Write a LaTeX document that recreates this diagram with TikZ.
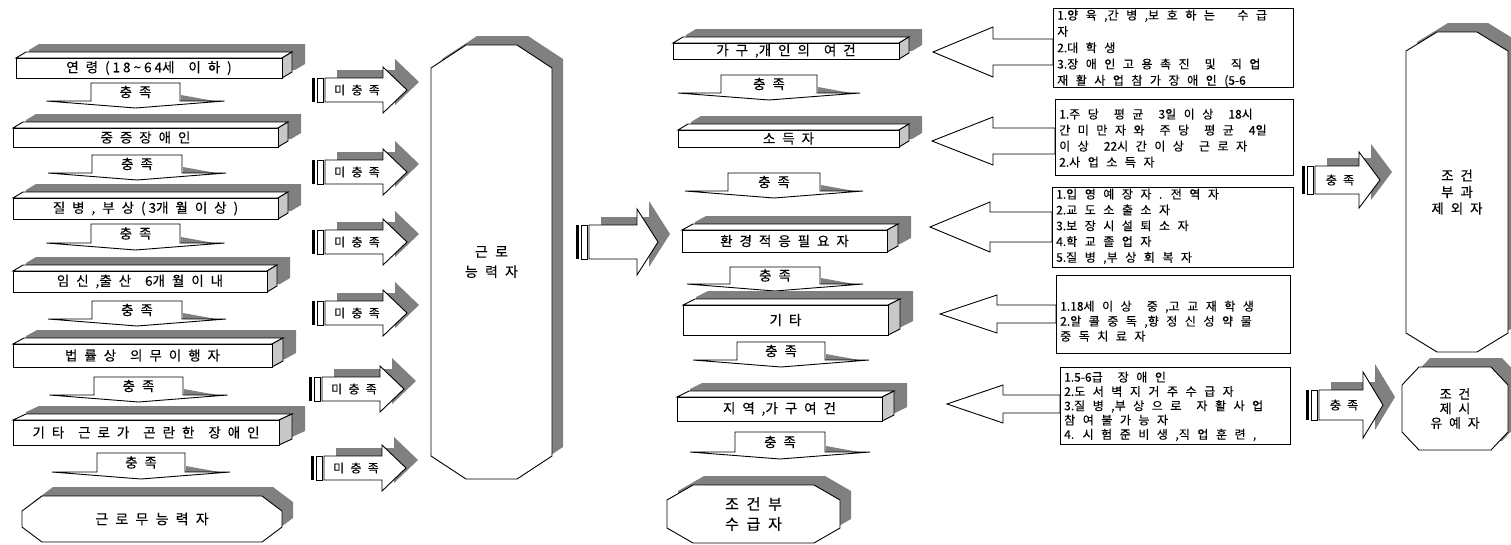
\documentclass[tikz,border=0pt]{standalone}
\usepackage{fontspec}
\setmainfont{Noto Sans CJK KR}[WordSpace=2.3,FakeBold=0.2]
\newfontfamily\bxf{Noto Sans CJK KR}[WordSpace=2.8,FakeBold=0.2]
\usetikzlibrary{calc}
\definecolor{shd}{gray}{0.5}
\definecolor{sidec}{gray}{0.78}
\newcommand{\gp}{\kern3pt}

% 3D bar: name x1 y1 x2 y2 depth text
\newcommand{\tdbar}[7]{%
  \begin{scope}[shift={(13,-8)}]
    \fill[shd] (#2,#5) -- (#2,#3) -- (#2+#6,#3-6) -- (#4+#6,#3-6) -- (#4+#6,#5-6) -- (#4,#5) -- cycle;
  \end{scope}
  \filldraw[fill=white,ol] (#2,#3) -- (#2+#6,#3-6) -- (#4+#6,#3-6) -- (#4,#3) -- cycle;
  \filldraw[fill=sidec,ol] (#4,#3) -- (#4+#6,#3-6) -- (#4+#6,#5-6) -- (#4,#5) -- cycle;
  \filldraw[fill=white,ol] (#2,#3) rectangle (#4,#5);
  \node[lbl] (#1) at ({(#2+#4)/2},{(#3+#5)/2}) {#7};
}
% down arrow: name cx ytop yshoulder halfshaft halfwing
\newcommand{\dnarr}[6]{%
  \fill[shd] (#2+#5+1,#4-6) -- (#2+#5+34,#4) -- (#2+#5+1,#4) -- cycle;
  \filldraw[fill=white,ol] (#2-#5,#3) -- (#2+#5,#3) -- (#2+#5,#4) -- (#2+#6,#4) -- (#2,#4+7) -- (#2-#6,#4) -- (#2-#5,#4) -- cycle;
  \node[lbl] (#1) at (#2,{(#3+#4)/2}) {충 족};
}
% right arrow with stripes: name xs cy xh xt hs hh text
\newcommand{\rtarr}[8]{%
  \begin{scope}[shift={(12,-8)}]
    \fill[shd] (#2+13,#3-#6) -- (#4,#3-#6) -- (#4,#3-#7) -- (#5,#3) -- (#4,#3+#7) -- (#4,#3+#6) -- (#2+13,#3+#6) -- cycle;
  \end{scope}
  \filldraw[fill=white,ol] (#2+13,#3-#6) -- (#4,#3-#6) -- (#4,#3-#7) -- (#5,#3) -- (#4,#3+#7) -- (#4,#3+#6) -- (#2+13,#3+#6) -- cycle;
  \fill[black] (#2,#3-#6) rectangle (#2+3,#3+#6);
  \filldraw[fill=white,ol] (#2+5,#3-#6) rectangle (#2+11,#3+#6);
  \node[albl] (#1) at ({(#2+13+#4)/2+3},#3) {#8};
}
% left arrow: name xt xh xbox cy hs hh
\newcommand{\lfarr}[7]{%
  \filldraw[fill=white,ol] (#2,#5) -- (#3,#5-#7) -- (#3,#5-#6) -- (#4,#5-#6) -- (#4,#5+#6) -- (#3,#5+#6) -- (#3,#5+#7) -- cycle;
  \coordinate (#1) at (#2,#5);
}
% octagon: name x1 y1 x2 y2 ch cv text font
\newcommand{\octa}[9]{%
  \begin{scope}[shift={(11,-9)}]
    \fill[shd] (#2+#6,#3) -- (#4-#6,#3) -- (#4,#3+#7) -- (#4,#5-#7) -- (#4-#6,#5) -- (#2+#6,#5) -- (#2,#5-#7) -- (#2,#3+#7) -- cycle;
  \end{scope}
  \filldraw[fill=white,ol] (#2+#6,#3) -- (#4-#6,#3) -- (#4,#3+#7) -- (#4,#5-#7) -- (#4-#6,#5) -- (#2+#6,#5) -- (#2,#5-#7) -- (#2,#3+#7) -- cycle;
  \node[inner sep=0pt,align=center,font=#9] (#1) at ({(#2+#4)/2},{(#3+#5)/2}) {#8};
}

\begin{document}
\begin{tikzpicture}[x=1pt,y=-1pt,
  ol/.style={draw=black,line width=0.9pt,line join=miter},
  lbl/.style={inner sep=0pt,font=\fontsize{13.5}{16}\selectfont},
  albl/.style={inner sep=0pt,font=\fontsize{12}{14}\selectfont},
  boxtxt/.style={inner sep=0pt,align=left,anchor=north west}]
\useasboundingbox (0,0) rectangle (1511,544);

% ---------- left column ----------
\tdbar{b1}{16}{58}{282}{78}{10}{연 령 (\gp 1\gp 8\gp\textasciitilde\gp 6\gp 4세\ \ 이 하 )}
\dnarr{d1}{135.5}{83}{101}{44.5}{89}
\tdbar{b2}{13}{128}{278}{147}{10}{중 증 장 애 인}
\dnarr{d2}{137}{155}{173}{45}{89}
\tdbar{b3}{13}{198}{278}{219}{10}{질 병 , 부 상 (\gp 3개 월 이 상 )}
\dnarr{d3}{135.5}{224}{243}{44.5}{89}
\tdbar{b4}{13}{271}{267}{292}{10}{임 신 ,출 산 \ 6개 월 이 내}
\dnarr{d4}{137}{301}{319}{45}{89}
\tdbar{b5}{13}{344}{272}{367}{11}{법 률 상 \ 의 무 이 행 자}
\dnarr{d5}{138.5}{377}{395}{44.5}{89}
\tdbar{b6}{13}{420}{279}{445}{13}{기 타 \ 근 로 가 \ 곤 란 한 \ 장 애 인}
\dnarr{d6}{141}{453}{472}{44}{89}
\octa{o1}{22}{496}{282}{542}{20}{15}{근 로 무 능 력 자}{\fontsize{14}{16}\selectfont}

% ---------- not-met arrows ----------
\rtarr{n1}{312}{90}{383}{407}{12}{23}{미 충 족}
\rtarr{n2}{312}{172}{383}{407}{12}{23}{미 충 족}
\rtarr{n3}{312}{242}{383}{407}{12}{23}{미 충 족}
\rtarr{n4}{312}{313}{383}{407}{12}{23}{미 충 족}
\rtarr{n5}{309}{389}{380}{404}{12}{23}{미 충 족}
\rtarr{n6}{311}{468}{382}{406}{12}{23}{미 충 족}

% ---------- able to work ----------
\octa{o2}{431}{45}{552}{479}{35}{23}{근 로\\능 력 자}{\fontsize{14}{20}\selectfont}
\rtarr{big}{576}{242}{637}{658}{17}{33}{}

% ---------- middle column ----------
\tdbar{m1}{673}{43}{899}{59}{10}{가 구 ,개 인 의 \ 여 건}
\dnarr{e1}{769}{75}{93}{48}{91}
\tdbar{m2}{678}{130}{899}{147}{10}{소 득 자}
\dnarr{e2}{774}{173}{191}{46}{89}
\tdbar{m3}{682}{230}{887}{252}{11}{환 경 적 응 필 요 자}
\dnarr{e3}{775}{267}{284}{45}{88}
\tdbar{m4}{683}{305}{888}{335}{12}{기 타}
\dnarr{e4}{781}{342}{360}{44}{88}
\tdbar{m5}{677}{397}{882}{421}{12}{지 역 ,가 구 여 건}
\dnarr{e5}{780}{432}{452}{45}{90}
\octa{o3}{667}{485}{840}{543}{26}{15}{조 건 부\\수 급 자}{\fontsize{15}{20}\selectfont}

% ---------- left arrows from condition boxes ----------
\lfarr{l1}{933}{993}{1053}{52}{13}{25}
\lfarr{l2}{932}{993}{1055}{141}{13}{24}
\lfarr{l3}{930}{990}{1052}{227}{15}{25}
\lfarr{l4}{940}{997}{1056}{314}{9}{19}
\lfarr{l5}{947}{1003}{1060}{404}{9}{19}

% ---------- condition boxes ----------
\filldraw[fill=white,ol] (1053,8) rectangle (1293,87);
\node[boxtxt,font=\bxf\fontsize{12}{16.3}\selectfont] (t1) at (1057,9.5) {1.양 육 ,간 병 ,보 호 하 는 \ \ 수 급\\자\\2.대 학 생\\3.장 애 인 고 용 촉 진 \ 및 \ 직 업\\재 활 사 업 참 가 장 애 인 (5-6};
\filldraw[fill=white,ol] (1055,99) rectangle (1293,175);
\node[boxtxt,font=\bxf\fontsize{12}{16}\selectfont] (t2) at (1059,108.5) {1.주 당 \ 평 균 \ 3일 이 상 \ 18시\\간 미 만 자 와 \ 주 당 \ 평 균 \ 4일\\이 상 \ 22시 간 이 상 \ 근 로 자\\2.사 업 소 득 자};
\filldraw[fill=white,ol] (1052,187) rectangle (1293,267);
\node[boxtxt,font=\bxf\fontsize{12}{15.8}\selectfont] (t3) at (1056,188.5) {1.입 영 예 장 자 . 전 역 자\\2.교 도 소 출 소 자\\3.보 장 시 설 퇴 소 자\\4.학 교 졸 업 자\\5.질 병 ,부 상 회 복 자};
\filldraw[fill=white,ol] (1056,275) rectangle (1290,353);
\node[boxtxt,font=\bxf\fontsize{12}{15}\selectfont] (t4) at (1060,300.5) {1.18세 이 상 \ 중 ,고 교 재 학 생\\2.알 콜 중 독 ,향 정 신 성 약 물\\중 독 치 료 자};
\filldraw[fill=white,ol] (1060,367) rectangle (1290,444);
\node[boxtxt,font=\bxf\fontsize{12}{14.3}\selectfont] (t5) at (1064,371.5) {1.5-6급 \ 장 애 인\\2.도 서 벽 지 거 주 수 급 자\\3.질 병 ,부 상 으 로 \ 자 활 사 업\\참 여 불 가 능 자\\4. 시 험 준 비 생 ,직 업 훈 련 ,};

% ---------- right side ----------
\rtarr{r1}{1302}{180}{1359}{1380}{14}{28}{충 족}
\rtarr{r2}{1306}{405}{1363}{1383}{15}{33}{충 족}
\octa{o4}{1406}{32}{1508}{352}{31}{19}{조 건\\부 과\\제 외 자}{\fontsize{13.5}{16.5}\selectfont}
\octa{o5}{1402}{367}{1508}{450}{17}{18}{조 건\\제 시\\유 예 자}{\fontsize{13}{14.5}\selectfont}
\end{tikzpicture}
\end{document}
